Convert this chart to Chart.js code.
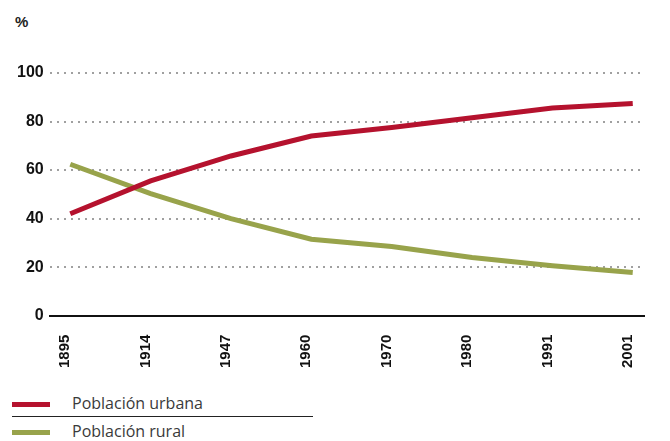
<!DOCTYPE html>
<html>
<head>
<meta charset="utf-8">
<script src="https://cdn.jsdelivr.net/npm/chart.js@4"></script>
<style>
    body { margin: 0; background: #fff; }
    #wrap { position: relative; width: 670px; height: 441px; font-family: 'Open Sans', sans-serif; }
    #chart-box { position: absolute; left: 0; top: 0; width: 670px; height: 391px; }
    #unit { position: absolute; left: 15px; top: 13px; font: bold 15px 'Liberation Sans', Arial, sans-serif; color: #222; }
    .leg { position: absolute; left: 12px; width: 300px; height: 22px; font-size: 16px; color: #3a3a3a; }
    .leg span.sw { position: absolute; left: 0; top: 9px; width: 38px; height: 5px; }
    .leg span.tx { position: absolute; left: 60px; top: -1px; }
    #sep { position: absolute; left: 12px; top: 416px; width: 301px; height: 1px; background: #222; }
</style>
</head>
<body>
<div id="wrap">
    <div id="unit">%</div>
    <div id="chart-box"><canvas id="chart"></canvas></div>
    <div class="leg" style="top:393px"><span class="sw" style="background:#b5122e"></span><span class="tx">Población urbana</span></div>
    <div id="sep"></div>
    <div class="leg" style="top:421px"><span class="sw" style="background:#98a34b"></span><span class="tx">Población rural</span></div>
</div>
<script>
// Urban vs rural population share
const years = ['1895', '1914', '1947', '1960', '1970', '1980', '1991', '2001'];
const urbana = [42, 55.5, 65.8, 74, 77.5, 81.6, 85.6, 87.4];
const rural = [62.4, 50.3, 40, 31.5, 28.5, 24, 20.6, 17.8];
const yTicks = [0, 20, 40, 60, 80, 100];

const toPoints = values => values.map((v, i) => ({ x: i, y: v }));

const ctx = document.getElementById('chart').getContext('2d');
new Chart(ctx, {
    type: 'line',
    data: {
        datasets: [
            { label: 'Población urbana', data: toPoints(urbana), borderColor: '#b5122e', borderWidth: 5, pointRadius: 0, tension: 0 },
            { label: 'Población rural', data: toPoints(rural), borderColor: '#98a34b', borderWidth: 5, pointRadius: 0, tension: 0 }
        ]
    },
    options: {
        responsive: true,
        maintainAspectRatio: false,
        animation: false,
        layout: { padding: { left: 11, right: 13, top: 73, bottom: 4 } },
        plugins: { legend: { display: false }, tooltip: { enabled: false } },
        scales: {
            x: {
                type: 'linear',
                min: -0.256,
                max: 7.146,
                afterBuildTicks: axis => { axis.ticks = years.map((y, i) => ({ value: i })); },
                ticks: {
                    callback: (v) => years[v],
                    minRotation: 90,
                    maxRotation: 90,
                    padding: 19,
                    labelOffset: -5,
                    color: '#111',
                    font: { family: 'Liberation Sans', weight: 'bold', size: 15 }
                },
                grid: { display: false, drawTicks: false },
                border: { display: true, color: '#111', width: 2 }
            },
            y: {
                min: 0,
                max: 100,
                afterBuildTicks: axis => { axis.ticks = yTicks.map(v => ({ value: v })); },
                ticks: {
                    padding: 6,
                    color: '#111',
                    font: { family: 'Liberation Sans', weight: 'bold', size: 16 }
                },
                grid: {
                    drawTicks: false,
                    color: '#a0a0a0',
                    lineWidth: 2
                },
                border: { display: false, dash: [2, 5] }
            }
        }
    }
});
</script>
</body>
</html>
